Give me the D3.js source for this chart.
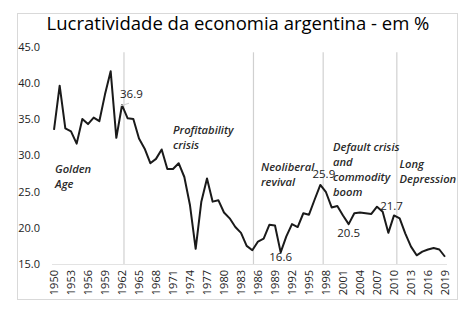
<!DOCTYPE html>
<html>
<head>
<meta charset="utf-8">
<script src="https://cdn.jsdelivr.net/npm/d3@7"></script>
<style>
  html, body { margin: 0; padding: 0; background: #fff; }
  svg text { font-family: "Open Sans", "Noto Sans", sans-serif; }
</style>
</head>
<body>
<svg id="chart" width="472" height="323"></svg>
<script>
// Data
const years = d3.range(1950, 2020);
const profitRate = [
  33.5, 39.6, 33.7, 33.3, 31.6, 35.0, 34.3, 35.2, 34.7, 38.4,
  41.6, 32.4, 36.9, 35.1, 35.0, 32.3, 30.9, 28.9, 29.5, 30.8,
  28.1, 28.1, 28.9, 27.0, 23.1, 17.1, 23.6, 26.8, 23.6, 23.8,
  22.1, 21.3, 20.1, 19.3, 17.5, 16.9, 18.1, 18.5, 20.4, 20.3,
  16.6, 18.8, 20.5, 20.1, 22.0, 21.8, 23.9, 25.9, 24.9, 22.8,
  23.0, 21.7, 20.5, 22.0, 22.1, 22.0, 21.9, 22.9, 22.2, 19.3,
  21.7, 21.3, 19.2, 17.4, 16.2, 16.7, 17.0, 17.2, 17.0, 16.0
];
const labelledYears = [1962, 1990, 1997, 2002, 2010];
const periodBreaks = [1962.35, 1985.2, 1997.5, 2010.5];
const periodNotes = [
  ["Golden", "Age"],
  ["Profitability", "crisis"],
  ["Neoliberal", "revival"],
  ["Default crisis", "and", "commodity", "boom"],
  ["Long", "Depression"]
];
const yTicks = [15, 20, 25, 30, 35, 40, 45];
const xTicks = d3.range(1950, 2020, 3);
const titleText = "Lucratividade da economia argentina - em %";

const svg = d3.select("#chart");

const x = d3.scaleLinear().domain([1950, 2019]).range([54, 445]);
const y = d3.scaleLinear().domain([15, 45]).range([264, 46.5]);

// outer frame
svg.append("rect")
  .attr("x", 17.5).attr("y", 13.5)
  .attr("width", 440).attr("height", 286)
  .attr("fill", "none").attr("stroke", "#d9d9d9");

svg.append("text")
  .attr("x", 238).attr("y", 30)
  .attr("text-anchor", "middle")
  .attr("font-size", 18.5)
  .attr("font-weight", 500)
  .attr("fill", "#000")
  .text(titleText);

// period separators
svg.append("g").selectAll("line")
  .data(periodBreaks)
  .join("line")
  .attr("x1", d => x(d)).attr("x2", d => x(d))
  .attr("y1", y(44.2)).attr("y2", y(15))
  .attr("stroke", "#d0d0d0").attr("stroke-width", 1.2);

// baseline
svg.append("line")
  .attr("x1", 52).attr("x2", 447)
  .attr("y1", y(15) + 0.5).attr("y2", y(15) + 0.5)
  .attr("stroke", "#e3e3e3");

// y axis
const yAxis = svg.append("g")
  .attr("transform", "translate(42,0)")
  .call(d3.axisLeft(y).tickValues(yTicks).tickSize(0).tickPadding(2).tickFormat(d3.format(".1f")));
yAxis.select(".domain").remove();
yAxis.selectAll("text")
  .attr("font-size", 11).attr("font-weight", 500).attr("fill", "#222");

// x axis
const xAxis = svg.append("g")
  .attr("transform", `translate(0,${y(15)})`)
  .call(d3.axisBottom(x).tickValues(xTicks).tickSize(0).tickFormat(d3.format("d")));
xAxis.select(".domain").remove();
xAxis.selectAll("text")
  .attr("font-size", 11).attr("font-weight", 500).attr("fill", "#222")
  .attr("transform", "rotate(-90)")
  .attr("text-anchor", "end")
  .attr("x", -6).attr("y", 0).attr("dy", "0.35em");

// series
const series = years.map((yr, i) => ({ year: yr, value: profitRate[i] }));
const line = d3.line().x(d => x(d.year)).y(d => y(d.value));

svg.append("path")
  .datum(series)
  .attr("d", line)
  .attr("fill", "none")
  .attr("stroke", "#1a1a1a")
  .attr("stroke-width", 2)
  .attr("stroke-linejoin", "round");

// value labels
const labelOffsets = {
  1962: { dx: -2, dy: -7, anchor: "start" },
  1990: { dx: 0, dy: 9, anchor: "middle" },
  1997: { dx: 3.5, dy: -6.5, anchor: "middle" },
  2002: { dx: 0, dy: 13, anchor: "middle" },
  2010: { dx: -2.5, dy: -5.5, anchor: "middle" }
};
const labelled = series.filter(d => labelledYears.includes(d.year));

svg.append("line")
  .attr("x1", x(1962) - 1).attr("y1", y(36.9) + 0.5)
  .attr("x2", x(1962) + 7).attr("y2", y(36.9) - 2)
  .attr("stroke", "#cfcfcf");

svg.append("g").selectAll("text")
  .data(labelled)
  .join("text")
  .attr("x", d => x(d.year) + labelOffsets[d.year].dx)
  .attr("y", d => y(d.value) + labelOffsets[d.year].dy)
  .attr("text-anchor", d => labelOffsets[d.year].anchor)
  .attr("font-size", 11.5)
  .attr("font-weight", 500)
  .attr("fill", "#222")
  .text(d => d3.format(".1f")(d.value));

// period notes
const notePos = [
  { x: 55, y: 173 },
  { x: 173, y: 134 },
  { x: 261, y: 171 },
  { x: 333, y: 151 },
  { x: 399.5, y: 168 }
];
const notes = svg.append("g")
  .attr("font-size", 11.2)
  .attr("font-style", "italic")
  .attr("font-weight", 600)
  .attr("fill", "#2a2a2a");

periodNotes.forEach((lines, i) => {
  const t = notes.append("text")
    .attr("x", notePos[i].x).attr("y", notePos[i].y);
  lines.forEach((ln, j) => {
    t.append("tspan")
      .attr("x", notePos[i].x)
      .attr("y", notePos[i].y + j * 15)
      .text(ln);
  });
});
</script>
</body>
</html>
